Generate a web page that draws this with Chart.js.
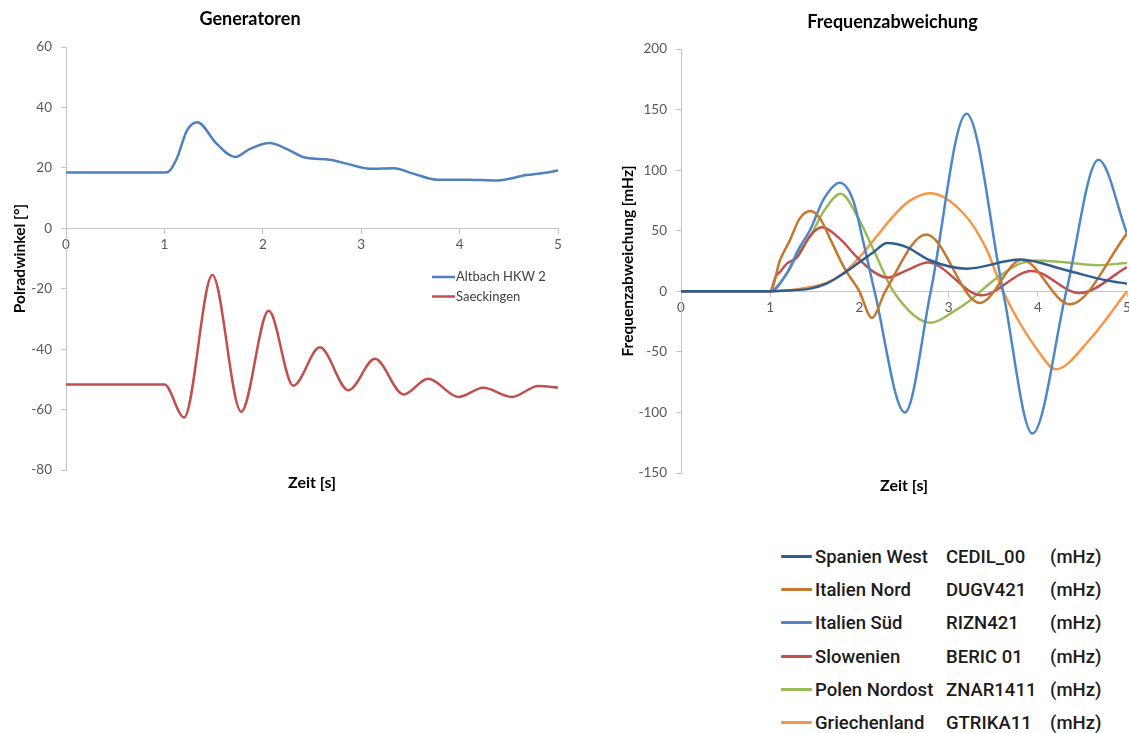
<!DOCTYPE html>
<html>
<head>
<meta charset="utf-8">
<title>Generatoren / Frequenzabweichung</title>
<script src="https://cdn.jsdelivr.net/npm/chart.js@4.4.0/dist/chart.umd.min.js"></script>
<style>
  html, body { margin: 0; padding: 0; background: #ffffff; }
  #wrap { position: relative; width: 1129px; height: 733px; overflow: hidden; }
  #genBox { position: absolute; left: 0; top: 0; width: 580px; height: 500px; }
  #freqBox { position: absolute; left: 600px; top: 0; width: 535px; height: 500px; }
  .legRow { position: absolute; left: 0; width: 1129px; height: 24px; }
  .legLine { position: absolute; left: 781px; top: 10px; width: 31px; height: 3px; border-radius: 1px; }
  .legText { position: absolute; top: 0; line-height: 24px; font-family: Roboto, "DejaVu Sans", sans-serif;
             font-weight: 500; font-size: 18.5px; color: #1c1c1c; white-space: nowrap; }
</style>
</head>
<body>
<div id="wrap">
  <div id="genBox"><canvas id="gen"></canvas></div>
  <div id="freqBox"><canvas id="freq"></canvas></div>
  <div id="freqLegend"></div>
</div>
<script>
// ---- Polradwinkel der Generatoren [°] über der Zeit [s] ----
const altbachT = [0, 1.0, 1.04, 1.125, 1.23, 1.334, 1.53, 1.72, 1.87, 2.07, 2.24, 2.43, 2.68, 2.85, 3.09, 3.33, 3.53, 3.77, 4.07, 4.38, 4.68, 4.85, 5.0];
const altbachV = [18.5, 18.5, 18.7, 23, 32.4, 35.1, 28, 23.6, 26.3, 28.2, 26.3, 23.4, 22.7, 21.4, 19.7, 19.9, 18.1, 16.1, 16.1, 15.8, 17.6, 18.3, 19.1];

const saeckingenT = [0, 1.0, 1.20, 1.487, 1.78, 2.06, 2.31, 2.58, 2.87, 3.14, 3.43, 3.68, 3.99, 4.24, 4.53, 4.80, 5.0];
const saeckingenV = [-51.7, -51.7, -62.6, -15.5, -60.7, -27.3, -52.1, -39.4, -53.6, -43.2, -55.0, -49.8, -55.8, -52.8, -55.8, -52.2, -52.7];

const genNames = ['Altbach HKW 2', 'Saeckingen'];
const genColors = ['#4f81bd', '#c0504d'];

// ---- Frequenzabweichung [mHz] über der Zeit [s] ----
const spanienT = [0, 1.0, 1.2, 1.45, 1.63, 1.82, 2.0, 2.16, 2.31, 2.53, 2.79, 3.2, 3.8, 4.32, 4.77, 5.0];
const spanienV = [0, 0, 0.6, 2.2, 6.3, 14.6, 24, 32.4, 39.9, 36.5, 25.6, 18.7, 26.2, 17.3, 9, 6.3];

const italienNordT = [0, 1.0, 1.11, 1.22, 1.33, 1.45, 1.56, 1.68, 1.84, 2.0, 2.14, 2.29, 2.75, 3.35, 3.82, 4.36, 5.0];
const italienNordV = [0, 0, 25.6, 42, 60, 66.3, 60, 42, 18, 0, -22, 0, 46.8, -9.6, 26, -10.7, 47.6];

const italienSuedT = [0, 1.0, 1.18, 1.32, 1.45, 1.60, 1.78, 1.93, 2.04, 2.17, 2.51, 2.80, 3.20, 3.61, 3.94, 4.32, 4.68, 5.0];
const italienSuedV = [0, 0, 14, 35, 51, 76, 89.5, 75, 42, 0, -100, 0, 146.6, 0, -117.4, 0, 108.6, 47.6];

const slowenienT = [0, 1.0, 1.06, 1.11, 1.19, 1.30, 1.45, 1.58, 1.78, 1.97, 2.16, 2.31, 2.53, 2.77, 3.37, 3.93, 4.47, 5.0];
const slowenienV = [0, 0, 12, 16, 23, 28, 46, 52.8, 43.5, 28.3, 16, 11.3, 17.3, 23.7, -3.3, 16.8, -1.4, 20];

const polenT = [0, 1.0, 1.18, 1.32, 1.45, 1.60, 1.79, 2.0, 2.16, 2.38, 2.80, 3.05, 3.25, 3.42, 3.6, 3.8, 3.98, 4.3, 4.66, 5.0];
const polenV = [0, 0, 13.8, 31.7, 45.5, 66, 80.6, 58.6, 34, 0, -26, -17, -7, 4, 14, 22.8, 25.5, 24, 21.5, 23.4];

const griechenlandT = [0, 1.0, 1.39, 1.63, 1.82, 2.0, 2.19, 2.38, 2.55, 2.79, 3.17, 3.43, 3.61, 4.02, 4.20, 4.58, 5.0];
const griechenlandV = [0, 0, 2.7, 7, 15, 28, 45, 62, 74, 81, 64, 34, 0, -51, -64.4, -40, 0];

const freqNames = ['Spanien West', 'Italien Nord', 'Italien Süd', 'Slowenien', 'Polen Nordost', 'Griechenland'];
const freqCodes = ['CEDIL_00', 'DUGV421', 'RIZN421', 'BERIC 01', 'ZNAR1411', 'GTRIKA11'];
const freqUnit = '(mHz)';
const freqColors = ['#2f5e8e', '#c4782f', '#4f86c6', '#c0504d', '#9bbb59', '#f79646'];

const timeTicks = [0, 1, 2, 3, 4, 5];

function pts(t, v) { return t.map((x, i) => ({ x: x, y: v[i] })); }

const FONT = 'Lato, "Open Sans", sans-serif';

// Chart title and bottom axis caption drawn at fixed spots on the canvas
const captions = {
  id: 'captions',
  afterDraw(chart, args, o) {
    const { ctx, chartArea: a } = chart;
    ctx.save();
    ctx.fillStyle = '#000';
    ctx.textAlign = 'center';
    ctx.textBaseline = 'middle';
    ctx.font = 'bold 18px ' + FONT;
    ctx.fillText(o.title, o.titleX, o.titleY);
    ctx.font = 'bold 16px ' + FONT;
    ctx.fillText(o.xTitle, (a.left + a.right) / 2, a.bottom + o.xTitleGap);
    ctx.restore();
  }
};

// Small series key inside the plot of the generator chart
const innerLegend = {
  id: 'innerLegend',
  afterDraw(chart, args, o) {
    if (!o.show) return;
    const ctx = chart.ctx;
    ctx.save();
    ctx.font = '13px ' + FONT;
    ctx.textBaseline = 'middle';
    ctx.textAlign = 'left';
    chart.data.datasets.forEach((ds, i) => {
      const y = o.y + i * o.rowGap;
      ctx.strokeStyle = ds.borderColor;
      ctx.lineWidth = 2.5;
      ctx.beginPath();
      ctx.moveTo(o.x, y);
      ctx.lineTo(o.x + 23, y);
      ctx.stroke();
      ctx.fillStyle = '#404040';
      ctx.fillText(ds.label, o.x + 24, y);
    });
    ctx.restore();
  }
};

function axisStyle() {
  return {
    grid: { drawOnChartArea: false, drawTicks: true, tickLength: 5, color: '#c4c4c4', lineWidth: 1 },
    border: { color: '#c4c4c4', width: 1 }
  };
}

function makeChart(id, datasets, cfg) {
  return new Chart(document.getElementById(id), {
    type: 'line',
    data: { datasets: datasets },
    plugins: [captions, innerLegend],
    options: {
      responsive: true,
      maintainAspectRatio: false,
      animation: false,
      events: [],
      layout: { padding: cfg.padding },
      elements: {
        point: { radius: 0 },
        line: { borderWidth: 2.5, cubicInterpolationMode: 'monotone', fill: false }
      },
      scales: {
        x: Object.assign(axisStyle(), {
          type: 'linear',
          position: { y: 0 },
          min: 0, max: 5,
          afterBuildTicks: (s) => { s.ticks = timeTicks.map(v => ({ value: v })); },
          ticks: { font: { family: FONT, size: 13.5 }, color: '#595959', padding: 3, maxRotation: 0 }
        }),
        y: Object.assign(axisStyle(), {
          type: 'linear',
          position: 'left',
          min: cfg.yMin, max: cfg.yMax,
          ticks: { stepSize: cfg.yStep, font: { family: FONT, size: 13.5 }, color: '#595959', padding: 9 },
          title: { display: true, text: cfg.yTitle, color: '#000',
                   font: { family: FONT, size: 15.5, weight: 'bold' }, padding: { top: cfg.yTitlePad, bottom: 0 } },
          afterFit: (s) => { s.width = cfg.yWidth; }
        })
      },
      plugins: {
        legend: { display: false },
        tooltip: { enabled: false },
        captions: cfg.captions,
        innerLegend: cfg.innerLegend
      }
    }
  });
}

const genSeries = [pts(altbachT, altbachV), pts(saeckingenT, saeckingenV)];
makeChart('gen', genSeries.map((d, i) => ({
  label: genNames[i], data: d, borderColor: genColors[i]
})), {
  padding: { top: 47, bottom: 30, right: 22, left: 0 },
  yMin: -80, yMax: 60, yStep: 20, yWidth: 66, yTitlePad: 10.7,
  yTitle: 'Polradwinkel [°]',
  captions: { title: 'Generatoren', titleX: 250, titleY: 19.5, xTitle: 'Zeit [s]', xTitleGap: 13 },
  innerLegend: { show: true, x: 432, y: 277, rowGap: 19.5 }
});

const freqSeries = [
  pts(spanienT, spanienV), pts(italienNordT, italienNordV), pts(italienSuedT, italienSuedV),
  pts(slowenienT, slowenienV), pts(polenT, polenV), pts(griechenlandT, griechenlandV)
];
makeChart('freq', freqSeries.map((d, i) => ({
  label: freqNames[i] + ' ' + freqCodes[i] + ' ' + freqUnit, data: d, borderColor: freqColors[i]
})), {
  padding: { top: 49, bottom: 27, right: 8, left: 0 },
  yMin: -150, yMax: 200, yStep: 50, yWidth: 81, yTitlePad: 18.7,
  yTitle: 'Frequenzabweichung [mHz]',
  captions: { title: 'Frequenzabweichung', titleX: 292.5, titleY: 22.5, xTitle: 'Zeit [s]', xTitleGap: 13 },
  innerLegend: { show: false }
});

// Key for the frequency chart: colour sample, region, station code, unit
const legendHost = document.getElementById('freqLegend');
freqNames.forEach((name, i) => {
  const row = document.createElement('div');
  row.className = 'legRow';
  row.style.top = (545 + i * 33.2) + 'px';
  const line = document.createElement('div');
  line.className = 'legLine';
  line.style.background = freqColors[i];
  row.appendChild(line);
  [[name, 815], [freqCodes[i], 946], [freqUnit, 1050]].forEach(([txt, x]) => {
    const s = document.createElement('div');
    s.className = 'legText';
    s.style.left = x + 'px';
    s.textContent = txt;
    row.appendChild(s);
  });
  legendHost.appendChild(row);
});
</script>
</body>
</html>
